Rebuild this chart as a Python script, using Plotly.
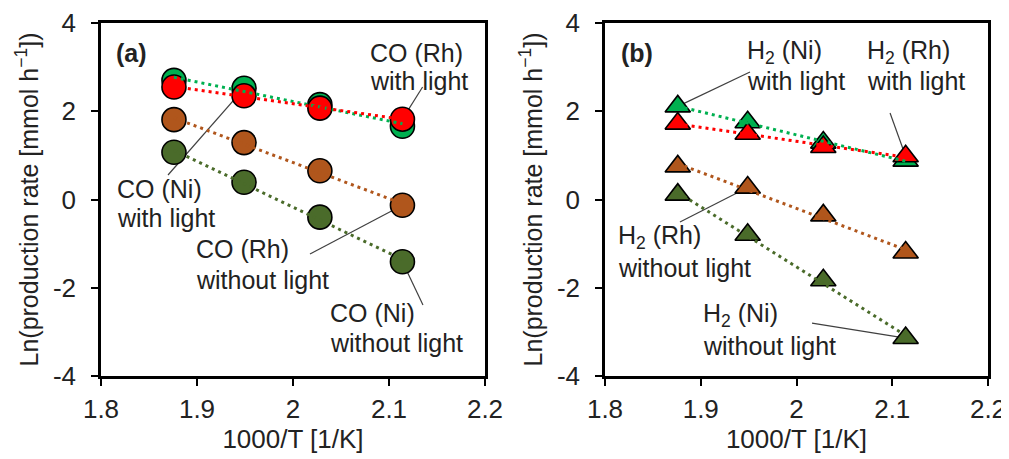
import numpy as np
import plotly.graph_objects as go

# ---------------- data ----------------
inv_T = [1.876, 1.949, 2.028, 2.114]

co_ni_light = [2.70, 2.52, 2.15, 1.66]
co_rh_light = [2.55, 2.35, 2.07, 1.82]
co_rh_dark = [1.81, 1.29, 0.65, -0.13]
co_ni_dark = [1.07, 0.39, -0.40, -1.41]

h2_ni_light = [2.11, 1.75, 1.29, 0.88]
h2_rh_light = [1.72, 1.49, 1.19, 0.98]
h2_rh_dark = [0.75, 0.27, -0.36, -1.20]
h2_ni_dark = [0.11, -0.80, -1.83, -3.14]

x_tickvals = [1.8, 1.9, 2.0, 2.1, 2.2]
x_ticktext = ["1.8", "1.9", "2", "2.1", "2.2"]
y_tickvals = [-4, -2, 0, 2, 4]
y_ticktext = ["-4", "-2", "0", "2", "4"]

# ---------------- styles ----------------
# the page body has an 8px default margin; size the figure to fill the rest
OFF = 8
W, H = 1009 - OFF, 459 - OFF
FONT = "Liberation Sans, Arial, sans-serif"
TXT = "#222222"
C_LGREEN = "#00B050"
C_RED = "#FF0000"
C_BROWN = "#B0561C"
C_DGREEN = "#4A6B2A"


def px2x(px):
    return (px - OFF) / W


def py2y(py):
    return 1 - (py - OFF) / H


fig = go.Figure()

panels = [
    ("x", "y", "circle", 24,
     [(co_ni_light, C_LGREEN), (co_rh_light, C_RED), (co_rh_dark, C_BROWN), (co_ni_dark, C_DGREEN)]),
    ("x2", "y2", "triangle-up", 22,
     [(h2_ni_light, C_LGREEN), (h2_rh_light, C_RED), (h2_rh_dark, C_BROWN), (h2_ni_dark, C_DGREEN)]),
]

for xa, ya, sym, size, series in panels:
    # markers first
    for vals, col in series:
        fig.add_trace(go.Scatter(
            x=inv_T, y=vals, mode="markers", xaxis=xa, yaxis=ya,
            marker=dict(symbol=sym, size=size, color=col,
                        line=dict(color="black", width=1.6)),
            showlegend=False, hoverinfo="skip"))
    # dotted linear trendlines on top
    for vals, col in series:
        k, b = np.polyfit(inv_T, vals, 1)
        xs = [inv_T[0], inv_T[-1]]
        fig.add_trace(go.Scatter(
            x=xs, y=[k * v + b for v in xs], mode="lines", xaxis=xa, yaxis=ya,
            line=dict(color=col, width=3, dash="3px,4px"),
            showlegend=False, hoverinfo="skip"))

# ---------------- axes ----------------
ax_common = dict(showline=True, linecolor="black", linewidth=2.6, mirror=True,
                 ticks="outside", ticklen=7, tickwidth=2, tickcolor="black",
                 showgrid=False, zeroline=False, automargin=False,
                 tickfont=dict(family=FONT, size=26, color=TXT))
xdom1 = [px2x(101), px2x(485)]
xdom2 = [px2x(605), px2x(988)]
ydom = [py2y(376), py2y(23)]

xtitle = dict(text="1000/T [1/K]", font=dict(family=FONT, size=26, color=TXT), standoff=0)
ytitle = dict(text="Ln(production rate [mmol h<sup>−1</sup>])",
              font=dict(family=FONT, size=25, color=TXT), standoff=8)

fig.update_layout(
    xaxis=dict(domain=xdom1, range=[1.8, 2.2], tickvals=x_tickvals, ticktext=x_ticktext,
               anchor="y", title=xtitle, ticklabelstandoff=1, **ax_common),
    yaxis=dict(domain=ydom, range=[-4, 4], tickvals=y_tickvals, ticktext=y_ticktext,
               anchor="x", title=ytitle, ticklabelstandoff=10, **ax_common),
    xaxis2=dict(domain=xdom2, range=[1.8, 2.2], tickvals=x_tickvals, ticktext=x_ticktext,
                anchor="y2", title=xtitle, ticklabelstandoff=1, **ax_common),
    yaxis2=dict(domain=ydom, range=[-4, 4], tickvals=y_tickvals, ticktext=y_ticktext,
                anchor="x2", title=ytitle, ticklabelstandoff=10, **ax_common),
)

# ---------------- labels and leader lines ----------------
def label(px, py_lines, lines, bold=False):
    for py, text in zip(py_lines, lines):
        fig.add_annotation(
            x=px2x(px), y=py2y(py), xref="paper", yref="paper",
            xanchor="left", yanchor="middle", align="left", showarrow=False,
            text=f"<b>{text}</b>" if bold else text,
            font=dict(family=FONT, size=25, color=TXT))


def leader(xa, ya, x0, y0, x1, y1):
    fig.add_shape(type="line", xref=xa, yref=ya, x0=x0, y0=y0, x1=x1, y1=y1,
                  line=dict(color="#404040", width=1.2), layer="below")


label(114, [53], ["(a)"], bold=True)
label(619, [53], ["(b)"], bold=True)

label(368, [53, 81], ["CO (Rh)", "with light"])
leader("x", "y", 2.135, 2.55, inv_T[3], co_rh_light[3])
label(115, [189, 218], ["CO (Ni)", "with light"])
leader("x", "y", 1.8698, 0.555, inv_T[1], co_ni_light[1])
label(194, [249, 280], ["CO (Rh)", "without light"])
leader("x", "y", 2.0177, -1.235, inv_T[3], co_rh_dark[3])
label(328, [313, 343], ["CO (Ni)", "without light"])
leader("x", "y", 2.1354, -2.39, inv_T[3], co_ni_dark[3])

label(745, [52, 81], ["H<sub>2</sub> (Ni)", "with light"])
leader("x2", "y2", 1.9514, 2.89, inv_T[0], h2_ni_light[0])
label(865, [52, 81], ["H<sub>2</sub> (Rh)", "with light"])
leader("x2", "y2", 2.0977, 1.96, inv_T[3], h2_rh_light[3])
label(616, [237, 268], ["H<sub>2</sub> (Rh)", "without light"])
leader("x2", "y2", 1.8783, -0.51, inv_T[1], h2_rh_dark[1])
label(701, [315, 346], ["H<sub>2</sub> (Ni)", "without light"])
leader("x2", "y2", 2.0162, -2.80, inv_T[3], h2_ni_dark[3])

fig.update_layout(
    width=W, height=H, margin=dict(l=0, r=0, t=0, b=0),
    paper_bgcolor="white", plot_bgcolor="white",
    font=dict(family=FONT, color=TXT),
)

fig.write_html("out.html")
